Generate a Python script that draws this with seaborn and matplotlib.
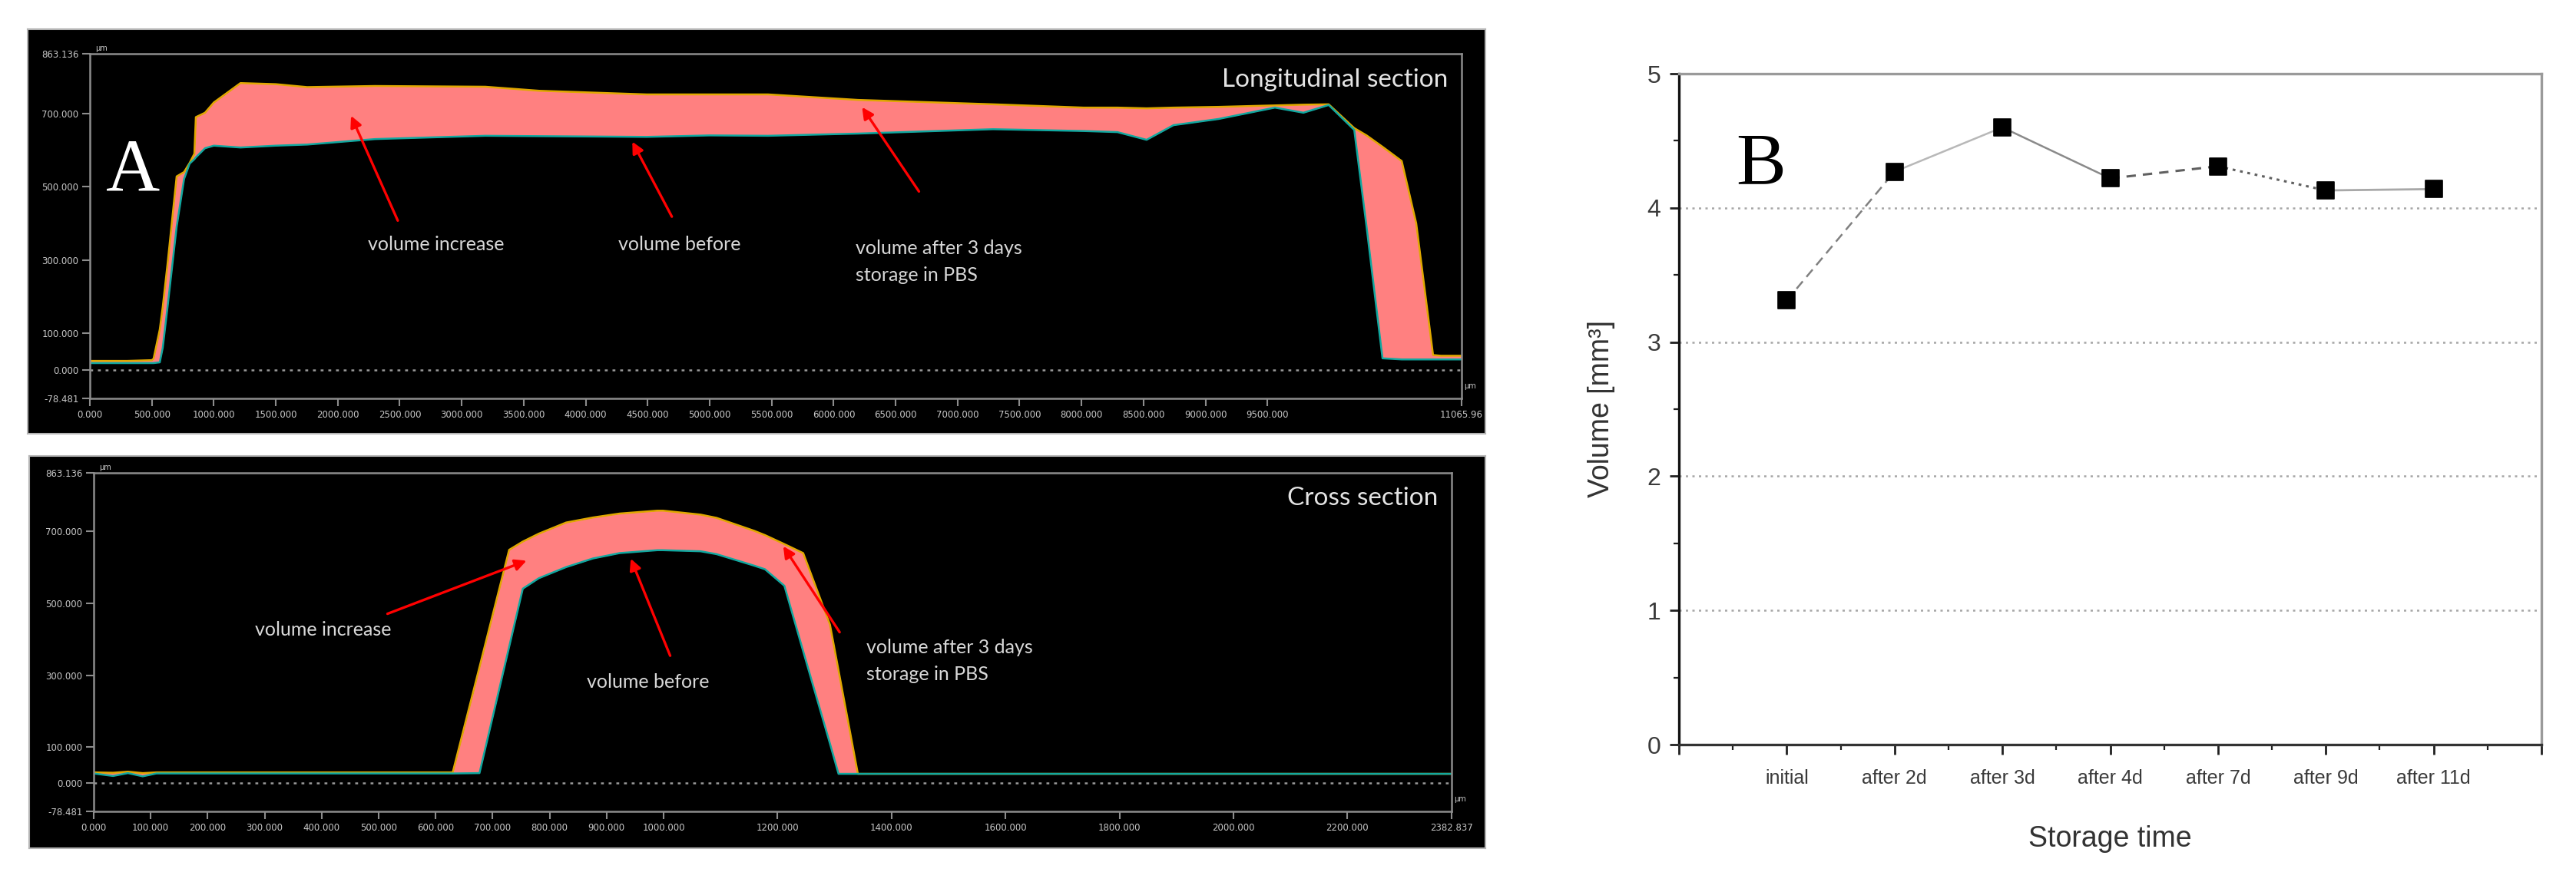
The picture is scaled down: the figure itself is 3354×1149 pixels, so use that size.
import numpy as np
import matplotlib
matplotlib.use("Agg")
import matplotlib.pyplot as plt
import seaborn as sns

W, H = 3355, 1149

# panel A, longitudinal section (x and height in µm)
long_x = [0, 300, 500, 514, 564, 588, 627, 700, 760, 805, 843, 855, 929, 1000, 1215, 1500,
          1753, 2300, 3190, 3624, 4492, 5000, 5471, 6196, 7286, 8017, 8290, 8525, 8742,
          9107, 9560, 9790, 9994, 10200, 10300, 10428, 10583, 10700, 10836, 10900, 11066]
long_after = [24, 24, 26, 30, 110, 172, 290, 528, 540, 565, 590, 690, 702, 730, 783, 780,
              772, 775, 773, 762, 752, 752, 752, 737, 725, 716, 716, 714, 716,
              718, 722, 724, 725, 660, 640, 609, 570, 400, 40, 38, 38]
long_before = [18, 18, 18, 18, 20, 60, 172, 390, 521, 563, 575, 580, 605, 612, 607, 612,
               615, 630, 639, 638, 636, 640, 639, 645, 657, 652, 649, 628, 668,
               685, 716, 702, 723, 655, 389, 31, 28, 28, 28, 28, 28]
long_ticks = [0, 500, 1000, 1500, 2000, 2500, 3000, 3500, 4000, 4500, 5000, 5500, 6000,
              6500, 7000, 7500, 8000, 8500, 9000, 9500, 11065.96]
long_last = "11065.96"

# panel A, cross section
cross_x = [0, 34, 60, 86, 110, 630, 677, 729, 753, 781, 829, 876, 923, 989, 999, 1065,
           1093, 1159, 1178, 1212, 1245, 1292, 1307, 1341, 2383]
cross_after = [30, 29, 32, 28, 30, 30, 323, 649, 672, 694, 725, 739, 750, 758, 758, 747,
               738, 702, 690, 665, 640, 441, 314, 26, 26]
cross_before = [27, 20, 28, 19, 27, 27, 28, 379, 541, 570, 601, 625, 640, 648, 648, 645,
                637, 605, 595, 549, 367, 110, 26, 26, 26]
cross_ticks = [0, 100, 200, 300, 400, 500, 600, 700, 800, 900, 1000, 1200, 1400, 1600,
               1800, 2000, 2200, 2382.837]
cross_last = "2382.837"

height_ticks = [863.136, 700, 500, 300, 100, 0, -78.481]

# panel B
storage = ["initial", "after 2d", "after 3d", "after 4d", "after 7d", "after 9d", "after 11d"]
volume = [3.31, 4.27, 4.60, 4.22, 4.31, 4.13, 4.14]

fig = plt.figure(figsize=(W / 100, H / 100), dpi=100)


def box(x0, y0, x1, y1):
    return [x0 / W, 1 - y1 / H, (x1 - x0) / W, (y1 - y0) / H]


def profile(bg_px, ax_px, x, after, before, ticks, last, title, title_y, notes):
    bg = fig.add_axes(box(*bg_px))
    bg.set_facecolor("black")
    bg.set_xticks([])
    bg.set_yticks([])
    for s in bg.spines.values():
        s.set_color("#b4b4b4")
        s.set_linewidth(1.5)

    ax = fig.add_axes(box(*ax_px))
    ax.set_facecolor("black")
    a = np.array(after, dtype=float)
    b = np.array(before, dtype=float)
    ax.fill_between(x, b, a, where=a >= b, interpolate=True, color="#ff8080", lw=0)
    sns.lineplot(x=x, y=after, ax=ax, color="#e0a800", lw=1.8, estimator=None, sort=False)
    sns.lineplot(x=x, y=before, ax=ax, color="#10a8a0", lw=1.8, estimator=None, sort=False)
    ax.axhline(0, color="#9a9a9a", ls=(0, (1.5, 2.5)), lw=1.8)
    ax.set_xlim(0, ticks[-1])
    ax.set_ylim(-78.481, 863.136)
    ax.set_xticks(ticks)
    ax.set_xticklabels([f"{v:.3f}" for v in ticks[:-1]] + [last])
    ax.set_yticks(height_ticks)
    ax.set_yticklabels([f"{v:.3f}" for v in height_ticks])
    ax.tick_params(colors="#8c8c8c", labelcolor="#c8c8c8", labelsize=8.5, length=7, width=1.5)
    for s in ax.spines.values():
        s.set_color("#8c8c8c")
        s.set_linewidth(1.8)
        s.set_visible(True)
    ax.set_xlabel("")
    ax.set_ylabel("")
    ax.text(0.004, 1.008, "µm", transform=ax.transAxes, color="#c8c8c8", fontsize=7)
    ax.text(1.002, 0.03, "µm", transform=ax.transAxes, color="#c8c8c8", fontsize=7)
    ax.text(0.99, title_y, title, transform=ax.transAxes, ha="right", va="center",
            color="#e4e4e4", fontsize=24, family="Lato")
    for txt, tx, ty, ha, tail, head in notes:
        ax.text(tx, ty, txt, ha=ha, va="center", color="#d8d8d8", fontsize=18,
                family="Lato", linespacing=1.6)
        ax.annotate("", xy=head, xytext=tail,
                    arrowprops=dict(arrowstyle="-|>", color="red", lw=2.4, mutation_scale=22))
    return ax


long_notes = [
    ("volume increase", 2794, 343, "center", (2491, 402), (2100, 699)),
    ("volume before", 4758, 341, "center", (4703, 413), (4368, 628)),
    ("volume after 3 days\nstorage in PBS", 6177, 295, "left", (6698, 482), (6220, 722)),
]
cross_notes = [
    ("volume increase", 402, 426, "center", (512, 469), (763, 621)),
    ("volume before", 973, 281, "center", (1013, 349), (941, 630)),
    ("volume after 3 days\nstorage in PBS", 1356, 340, "left", (1311, 415), (1208, 664)),
]

profile((36, 38, 1934, 565), (117, 70, 1903, 519), long_x, long_after, long_before,
        long_ticks, long_last, "Longitudinal section", 0.925, long_notes)
profile((38, 594, 1934, 1105), (122, 616, 1890, 1057), cross_x, cross_after, cross_before,
        cross_ticks, cross_last, "Cross section", 0.925, cross_notes)

fig.text(173 / W, 1 - 247 / H, "A", family="Liberation Serif", fontsize=70,
         color="white", ha="center", va="baseline")

# panel B
axb = fig.add_axes(box(2186, 96, 3309, 970))
pos = np.arange(1, len(storage) + 1)
seg_styles = [
    dict(color="#808080", ls=(0, (5, 3)), lw=1.8),
    dict(color="#b8b8b8", ls="-", lw=1.8),
    dict(color="#8a8a8a", ls="-", lw=1.8),
    dict(color="#606060", ls=(0, (4, 3)), lw=2.2),
    dict(color="#606060", ls=(0, (1.2, 2)), lw=2.2),
    dict(color="#a8a8a8", ls="-", lw=2.0),
]
for i, st in enumerate(seg_styles):
    axb.plot(pos[i:i + 2], volume[i:i + 2], **st, zorder=3)
sns.scatterplot(x=pos, y=volume, marker="s", s=230, color="black", edgecolor="black",
                ax=axb, zorder=5)

axb.set_xlim(0, 8)
axb.set_ylim(0, 5)
axb.set_xticks(range(0, 9))
axb.set_xticklabels([""] + storage + [""], fontsize=18, color="#3a3a3a", family="Liberation Sans")
axb.set_xticks(np.arange(0.5, 8, 1), minor=True)
axb.set_yticks(range(0, 6))
axb.set_yticklabels([str(v) for v in range(0, 6)], fontsize=23, color="#3a3a3a",
                    family="Liberation Sans")
axb.set_yticks(np.arange(0.5, 5, 1), minor=True)
axb.tick_params(which="major", length=9, width=2, color="#202020", pad=8)
axb.tick_params(axis="x", which="major", pad=14)
axb.tick_params(which="minor", length=5, width=1.6, color="#202020")
axb.set_facecolor("white")
for y in range(1, 5):
    axb.axhline(y, color="#a6a6a6", ls=(0, (1.2, 2.2)), lw=1.8, zorder=1)
axb.spines["left"].set_color("#111111")
axb.spines["bottom"].set_color("#333333")
axb.spines["top"].set_color("#9a9a9a")
axb.spines["right"].set_color("#9a9a9a")
for s in axb.spines.values():
    s.set_linewidth(2.4)
    s.set_visible(True)

axb.set_xlabel("Storage time", fontsize=27, color="#333333", family="Liberation Sans")
axb.xaxis.label.set_va("center")
axb.xaxis.set_label_coords(0.5, -0.141)
axb.set_ylabel("Volume [mm³]", fontsize=27, color="#333333", family="Liberation Sans")
axb.yaxis.label.set_va("center")
axb.yaxis.set_label_coords(-0.09, 0.5)

fig.text(2293 / W, 1 - 240 / H, "B", family="Liberation Serif", fontsize=70,
         color="black", ha="center", va="baseline")

fig.savefig("out.png", dpi=100, facecolor="white")
